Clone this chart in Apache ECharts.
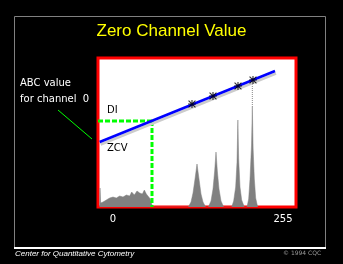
<!DOCTYPE html>
<html><head><meta charset="utf-8">
<script src="https://cdn.jsdelivr.net/npm/echarts@6/dist/echarts.min.js"></script>
<style>html,body{margin:0;padding:0;background:#000}#c{width:343px;height:264px}</style>
</head><body><div id="c"></div>
<script>
// channel axis tick labels
const xTicks = [0, 255];
// histogram: [channel, count]
const noise = [[-20,0],[-19.5,19],[-18.5,4],[-15,5],[-10,7],[-5,9],[0,10],[5,9],[10,11],[15,10],[20,12],[25,11],[28,15],[32,12],[36,16],[40,14],[44,13],[47,17],[50,13],[53,12],[56,8],[58,3],[60,0]];
const peak1 = [[113,0],[117,5],[120,14],[123,28],[126,43],[129,28],[132,13],[135,5],[139,0]];
const peak2 = [[143,0],[147,6],[150,18],[152.5,36],[154.5,55],[156.5,36],[159,18],[162,6],[166,0]];
const peak3 = [[178,0],[181,6],[184,20],[186,45],[187.3,87],[188.5,48],[190.5,20],[193,7],[197,0]];
const peak4 = [[201,0],[203.5,8],[205.5,28],[207.8,62],[209,100],[210.2,58],[212,28],[214,9],[217,0]];
const peak4Tip = [[209,100],[209,129]];
// calibration line (ABC value vs channel) and bead points
const calLine = [[-20,65],[243,136]];
const beads = [[118.5,103],[150,111],[187.5,121],[210,127]];
// zero channel value guides
const diLine = [[-22.5,86],[58.5,86]];
const zcvLine = [[58.5,86],[58.5,0]];

const hist = [].concat(noise, [[60,0],[113,0]], peak1, [[143,0]], peak2, [[178,0]], peak3, [[201,0]], peak4);

const chart = echarts.init(document.getElementById('c'));
const star = 'path://M4.3 0H5.7V10H4.3Z M0 4.3H10V5.7H0Z M1.2 0.2L9.8 8.8L8.8 9.8L0.2 1.2Z M8.8 0.2L9.8 1.2L1.2 9.8L0.2 8.8Z';
chart.setOption({
  backgroundColor: '#000',
  animation: false,
  title: {
    text: 'Zero Channel Value', left: 'center', top: 18,
    textStyle: {color: '#ffff00', fontFamily: 'Liberation Sans', fontWeight: 'normal', fontSize: 17}
  },
  grid: {left: 98, top: 58, width: 198, height: 149, show: true, backgroundColor: '#fff', borderColor: '#ff0000', borderWidth: 3},
  xAxis: {type: 'value', min: -22.5, max: 274.5,
    axisLine: {show: false}, axisTick: {show: false}, splitLine: {show: false},
    axisLabel: {customValues: xTicks, color: '#fff', fontSize: 10, margin: 7, fontFamily: 'DejaVu Sans'}},
  yAxis: {type: 'value', min: 0, max: 149, show: false},
  series: [
    {type: 'line', data: hist, symbol: 'none', lineStyle: {width: 0.5, color: '#808080'}, areaStyle: {color: '#808080', opacity: 1}},
    {type: 'line', data: peak4Tip, symbol: 'none', lineStyle: {width: 1, color: '#888', type: 'dotted'}},
    {type: 'line', data: diLine, symbol: 'none', lineStyle: {width: 3, color: '#00ff00', type: [5, 2]}, z: 3},
    {type: 'line', data: zcvLine, symbol: 'none', lineStyle: {width: 3, color: '#00ff00', type: [5, 2]}, z: 3},
    {type: 'line', data: calLine, symbol: 'none', lineStyle: {width: 2.5, color: '#0000ff', shadowColor: '#ccc', shadowOffsetX: 1, shadowOffsetY: 2.5, shadowBlur: 0}, z: 4},
    {type: 'scatter', data: beads, symbol: star, symbolSize: 8, itemStyle: {color: '#000'}, z: 5}
  ],
  graphic: [
    {type: 'rect', shape: {x: 14.5, y: 16.5, width: 311, height: 231}, style: {fill: 'none', stroke: '#808080', lineWidth: 1}, z: 0},
    {type: 'rect', shape: {x: 14, y: 247, width: 312, height: 2}, style: {fill: '#fff'}},
    {type: 'text', x: 20, y: 78, style: {text: 'ABC value', fill: '#fff', font: '10px "DejaVu Sans"'}},
    {type: 'text', x: 20, y: 94, style: {text: 'for channel  0', fill: '#fff', font: '10px "DejaVu Sans"'}},
    {type: 'line', shape: {x1: 58, y1: 110, x2: 92, y2: 139}, style: {stroke: '#00ff00', lineWidth: 1}},
    {type: 'text', x: 107, y: 105, style: {text: 'DI', fill: '#000', font: '10px "DejaVu Sans"'}, z: 10},
    {type: 'text', x: 107, y: 143, style: {text: 'ZCV', fill: '#000', font: '10px "DejaVu Sans"'}, z: 10},
    {type: 'text', x: 15, y: 250, style: {text: 'Center for Quantitative Cytometry', fill: '#fff', font: 'italic 8px "Liberation Sans"'}},
    {type: 'text', x: 283, y: 250, style: {text: '© 1994 CQC', fill: '#999', font: '6px "DejaVu Sans"'}}
  ]
});
</script></body></html>
